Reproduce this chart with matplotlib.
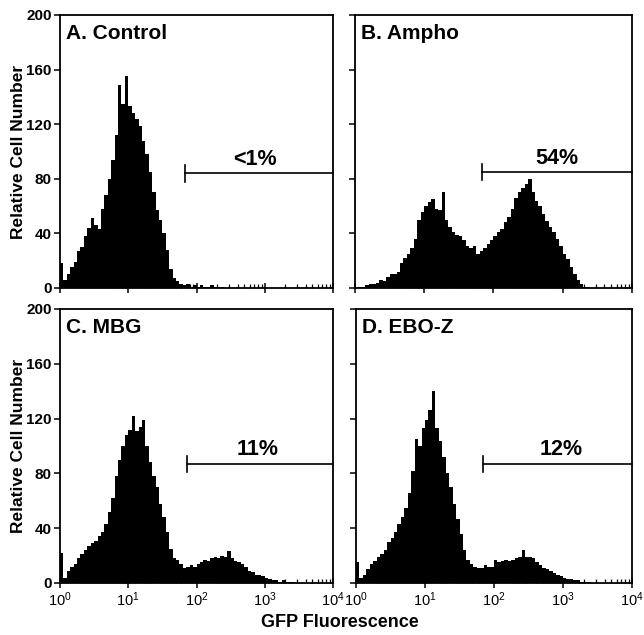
import numpy as np
import matplotlib
matplotlib.use("Agg")
import matplotlib.pyplot as plt

plt.rcParams['font.family'] = ['Liberation Sans', 'DejaVu Sans']

# 80 channels, evenly spaced in log10 from 10^0 to 10^4
n_bins = 80
bin_edges = np.logspace(0, 4, n_bins + 1)

control = [18, 6, 10, 15, 19, 27, 30, 38, 44, 51,
           46, 43, 58, 68, 80, 94, 112, 149, 135, 155,
           133, 128, 124, 119, 108, 98, 85, 70, 57, 50,
           40, 28, 14, 7, 5, 3, 2, 3, 1, 2,
           1, 2, 1, 1, 2, 1, 1, 1, 0, 0] + [0] * 30

ampho = [0, 1, 1, 2, 3, 3, 4, 6, 5, 8,
         10, 10, 12, 18, 22, 25, 29, 36, 50, 56,
         60, 63, 65, 58, 57, 70, 50, 45, 41, 39,
         38, 35, 31, 29, 31, 25, 27, 29, 32, 35,
         38, 41, 43, 48, 52, 58, 66, 70, 73, 76,
         80, 70, 64, 60, 54, 49, 45, 41, 36, 31,
         25, 21, 15, 10, 6, 3, 1, 1, 0, 0] + [0] * 10

mbg = [22, 4, 9, 12, 14, 18, 21, 24, 27, 29,
       31, 34, 37, 43, 52, 62, 78, 90, 100, 108,
       112, 122, 111, 114, 119, 100, 88, 78, 70, 58,
       48, 37, 25, 18, 17, 14, 11, 12, 13, 12,
       14, 15, 17, 16, 18, 19, 18, 20, 19, 23,
       18, 16, 15, 14, 12, 9, 8, 6, 6, 5,
       4, 3, 2, 2, 1, 2, 1, 1, 1, 0] + [0] * 10

ebo_z = [15, 4, 6, 10, 14, 16, 19, 21, 24, 30,
         33, 37, 43, 48, 55, 66, 82, 105, 100, 113,
         119, 126, 140, 113, 104, 92, 80, 70, 58, 47,
         36, 24, 17, 14, 12, 11, 11, 13, 12, 12,
         17, 15, 16, 17, 16, 17, 18, 19, 24, 19,
         19, 18, 15, 13, 11, 10, 9, 7, 6, 5,
         4, 3, 3, 2, 2, 1, 1, 1, 0, 0] + [0] * 10

titles = ['A. Control', 'B. Ampho', 'C. MBG', 'D. EBO-Z']
gate_labels = ['<1%', '54%', '11%', '12%']
gate_start = [68, 69, 72, 69]
gate_level = [84, 85, 87, 87]
label_pos = [720, 830, 780, 930]

panels = [control, ampho, mbg, ebo_z]

fig = plt.figure(figsize=(6.44, 6.35), dpi=100)
rects = [
    [0.0932, 0.5465, 0.4239, 0.4299],
    [0.5512, 0.5465, 0.4301, 0.4299],
    [0.0932, 0.0819, 0.4239, 0.4315],
    [0.5528, 0.0819, 0.4286, 0.4315],
]

for i, (rect, counts) in enumerate(zip(rects, panels)):
    ax = fig.add_axes(rect)
    ax.stairs(counts, bin_edges, fill=True, color='black', linewidth=0)
    ax.set_xscale('log')
    ax.set_xlim(1, 1e4)
    ax.set_ylim(0, 200)
    ax.set_yticks([0, 40, 80, 120, 160, 200])

    for s in ax.spines.values():
        s.set_linewidth(1.3)

    ax.tick_params(axis='y', direction='out', length=4, width=1.1,
                   right=False, labelsize=11, pad=2)
    ax.tick_params(axis='x', which='major', direction='inout', length=7,
                   width=1.1, top=False, labelsize=10.5, pad=2)
    ax.tick_params(axis='x', which='minor', direction='in', length=3,
                   width=0.9, top=False)
    for lab in ax.get_yticklabels():
        lab.set_fontweight('bold')

    if i % 2 == 1:
        ax.set_yticklabels([])
    else:
        ax.set_ylabel('Relative Cell Number', fontsize=12.5,
                      fontweight='bold', labelpad=0)
    if i < 2:
        ax.set_xticklabels([])
        ax.tick_params(axis='x', which='major', labelbottom=False)

    ax.text(0.022, 0.968, titles[i], transform=ax.transAxes,
            fontsize=15, fontweight='bold', ha='left', va='top')

    # gate marker
    y = gate_level[i]
    ax.plot([gate_start[i], 1e4], [y, y], color='black', linewidth=1.2,
            clip_on=False)
    ax.plot([gate_start[i], gate_start[i]], [y - 6, y + 6], color='black',
            linewidth=1.2)
    ax.text(label_pos[i], y + 2.5, gate_labels[i], fontsize=15.5,
            fontweight='bold', ha='center', va='bottom')

fig.text(0.528, 0.019, 'GFP Fluorescence', fontsize=13,
         fontweight='bold', ha='center', va='center')

fig.savefig('out.png', dpi=100)
